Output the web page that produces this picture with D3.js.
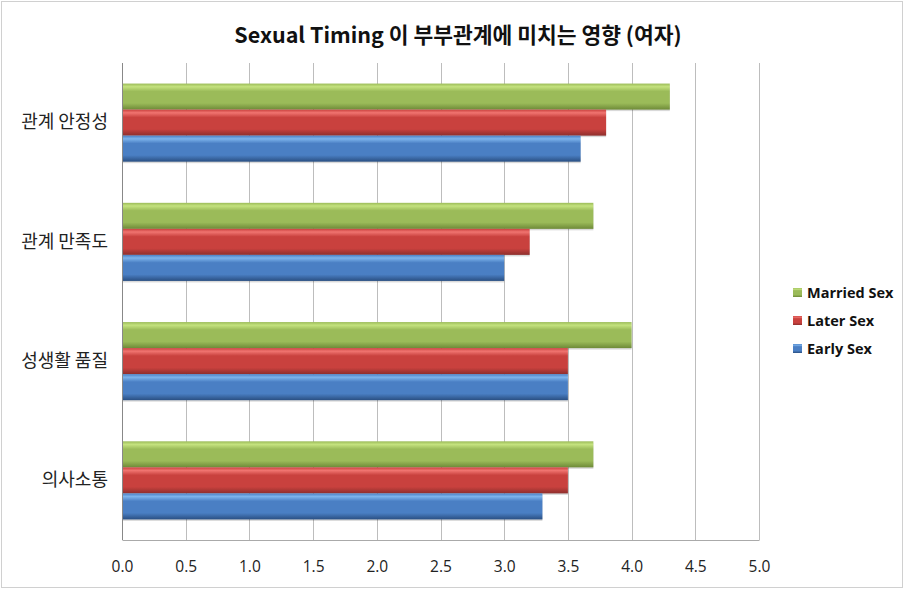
<!DOCTYPE html>
<html>
<head>
<meta charset="utf-8">
<script src="https://cdn.jsdelivr.net/npm/d3@7"></script>
<style>
body { margin: 0; background: #fff; }
text { font-family: "Noto Sans CJK KR", "Noto Sans", sans-serif; }
</style>
</head>
<body>
<svg id="chart" width="905" height="590"></svg>
<script>
// data
var categories = ["관계 안정성", "관계 만족도", "성생활 품질", "의사소통"];
var seriesNames = ["Married Sex", "Later Sex", "Early Sex"];
var marriedSex = [4.3, 3.7, 4.0, 3.7];
var laterSex = [3.8, 3.2, 3.5, 3.5];
var earlySex = [3.6, 3.0, 3.5, 3.3];
var tickValues = [0, 0.5, 1, 1.5, 2, 2.5, 3, 3.5, 4, 4.5, 5];
var title = "Sexual Timing 이 부부관계에 미치는 영향 (여자)";

var seriesData = [marriedSex, laterSex, earlySex];
var colors = [
	{ top: "#c4e27e", mid: "#9bbb59", bot: "#6e8a38" },
	{ top: "#f07470", mid: "#c9413e", bot: "#8e2f2d" },
	{ top: "#7db4ec", mid: "#4a7fc4", bot: "#2a4f82" }
];

var svg = d3.select("#chart");
var margin = { left: 122, right: 146, top: 63, bottom: 50 };
var width = 905 - margin.left - margin.right;
var height = 590 - margin.top - margin.bottom;

// outer border
svg.append("rect")
.attr("x", 1.5).attr("y", 1.5)
.attr("width", 901).attr("height", 586)
.attr("fill", "#fff")
.attr("stroke", "#d0d0d0");

var defs = svg.append("defs");
colors.forEach(function(c, i) {
	var g = defs.append("linearGradient")
	.attr("id", "grad" + i)
	.attr("x1", 0).attr("y1", 0).attr("x2", 0).attr("y2", 1);
	g.append("stop").attr("offset", "0%").attr("stop-color", c.mid);
	g.append("stop").attr("offset", "12%").attr("stop-color", c.top);
	g.append("stop").attr("offset", "30%").attr("stop-color", c.mid);
	g.append("stop").attr("offset", "75%").attr("stop-color", c.mid);
	g.append("stop").attr("offset", "100%").attr("stop-color", c.bot);
});

svg.append("text")
.attr("x", 458)
.attr("y", 43)
.attr("text-anchor", "middle")
.attr("font-size", "21.5px")
.attr("font-weight", "bold")
.attr("fill", "#111")
.text(title);

var g = svg.append("g")
.attr("transform", "translate(" + margin.left + "," + margin.top + ")");

var x = d3.scaleLinear().domain([0, 5]).range([0, width]);
var y0 = d3.scaleBand().domain(categories).range([0, height]).paddingInner(0.345).paddingOuter(0.1725);
var y1 = d3.scaleBand().domain(seriesNames).range([0, y0.bandwidth()]);

// grid
g.append("g")
.selectAll("line")
.data(tickValues)
.enter()
.append("line")
.attr("x1", function(d) { return Math.round(x(d)) + 0.5; })
.attr("x2", function(d) { return Math.round(x(d)) + 0.5; })
.attr("y1", 0)
.attr("y2", height)
.attr("stroke", function(d) { return d === 0 ? "#888" : "#bdbdbd"; });

// bottom axis
var xAxis = g.append("g")
.attr("transform", "translate(0," + height + ")")
.call(d3.axisBottom(x).tickValues(tickValues).tickFormat(d3.format(".1f")).tickSize(0).tickPadding(21));
xAxis.select(".domain").attr("stroke", "#aaa");
xAxis.selectAll("text")
.attr("font-size", "15.5px")
.attr("fill", "#222")
.style("font-family", "'Open Sans', 'Noto Sans', sans-serif");

// left labels
var yAxis = g.append("g")
.call(d3.axisLeft(y0).tickSize(0).tickPadding(14));
yAxis.select(".domain").remove();
yAxis.selectAll("text")
.attr("font-size", "18px")
.attr("fill", "#222");

// bars
var groups = g.selectAll(".grp")
.data(categories)
.enter()
.append("g")
.attr("class", "grp")
.attr("transform", function(d) { return "translate(0," + y0(d) + ")"; });

seriesNames.forEach(function(s, si) {
	groups.append("rect")
	.attr("x", 1)
	.attr("y", y1(s) + 1.5)
	.attr("width", function(d, i) { return x(seriesData[si][i]) - 1; })
	.attr("height", y1.bandwidth())
	.attr("fill", "rgba(0,0,0,0.15)");
	groups.append("rect")
	.attr("x", 1)
	.attr("y", y1(s))
	.attr("width", function(d, i) { return x(seriesData[si][i]) - 1; })
	.attr("height", y1.bandwidth())
	.attr("fill", "url(#grad" + si + ")");
});

// legend
var legend = svg.append("g")
.attr("transform", "translate(793,293)")
.selectAll("g")
.data(seriesNames)
.enter()
.append("g")
.attr("transform", function(d, i) { return "translate(0," + i * 28 + ")"; });

legend.append("rect")
.attr("x", 0).attr("y", -5)
.attr("width", 9).attr("height", 9)
.attr("fill", function(d, i) { return "url(#grad" + i + ")"; });

legend.append("text")
.attr("x", 14)
.attr("y", 5)
.attr("font-size", "14.5px")
.attr("font-weight", "bold")
.attr("fill", "#111")
.style("font-family", "'Open Sans', 'Noto Sans', sans-serif")
.text(function(d) { return d; });
</script>
</body>
</html>
